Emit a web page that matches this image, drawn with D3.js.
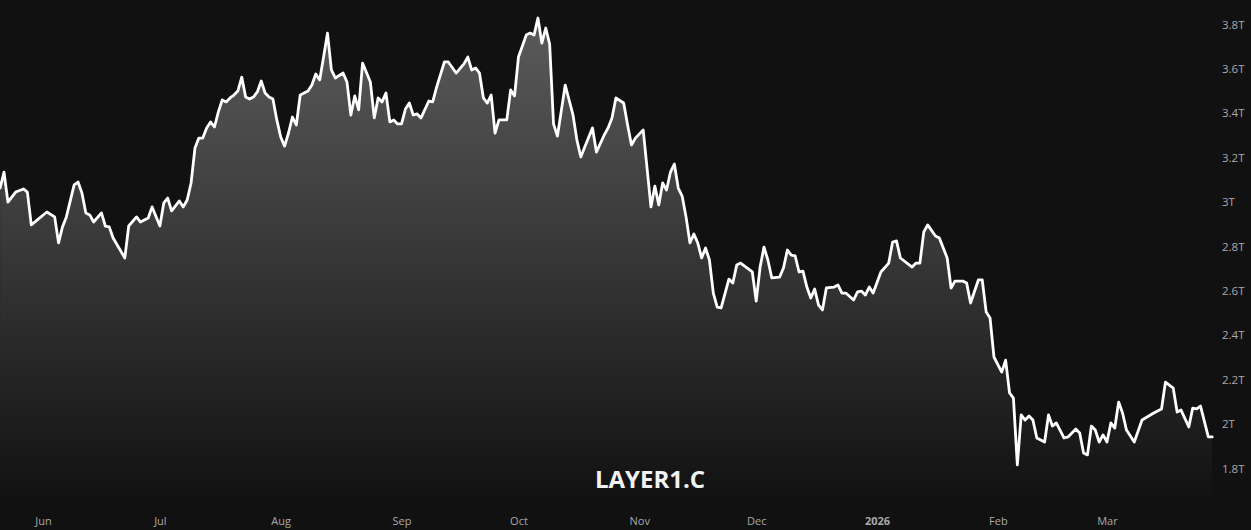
<!DOCTYPE html>
<html>
<head>
<meta charset="utf-8">
<script src="https://cdn.jsdelivr.net/npm/d3@7"></script>
<style>
  html, body { margin: 0; padding: 0; background: #111111; }
  svg { display: block; }
</style>
</head>
<body>
<svg id="chart" width="1251" height="530"></svg>
<script>
// ---- data ----
const title = "LAYER1.C";
const dates = [
"2025-05-21","2025-05-22","2025-05-23","2025-05-25","2025-05-27","2025-05-28","2025-05-29",
"2025-06-02","2025-06-04","2025-06-05","2025-06-06","2025-06-07","2025-06-09","2025-06-10",
"2025-06-11","2025-06-12","2025-06-13","2025-06-14","2025-06-16","2025-06-17","2025-06-18",
"2025-06-19","2025-06-22","2025-06-23","2025-06-25","2025-06-26","2025-06-28","2025-06-29",
"2025-07-01","2025-07-02","2025-07-03","2025-07-04","2025-07-06","2025-07-07","2025-07-08",
"2025-07-09","2025-07-10","2025-07-11","2025-07-12","2025-07-13","2025-07-14","2025-07-15",
"2025-07-16","2025-07-17","2025-07-18","2025-07-19","2025-07-20","2025-07-21","2025-07-22",
"2025-07-23","2025-07-24","2025-07-25","2025-07-26","2025-07-27","2025-07-28","2025-07-29",
"2025-07-30","2025-07-31","2025-08-01","2025-08-02","2025-08-03","2025-08-04","2025-08-05",
"2025-08-06","2025-08-07","2025-08-08","2025-08-09","2025-08-10","2025-08-11","2025-08-12",
"2025-08-13","2025-08-14","2025-08-15","2025-08-17",
"2025-08-18","2025-08-19","2025-08-20","2025-08-21","2025-08-22","2025-08-24","2025-08-25",
"2025-08-26","2025-08-27","2025-08-28","2025-08-29","2025-08-30","2025-08-31","2025-09-01",
"2025-09-02","2025-09-03","2025-09-04","2025-09-05","2025-09-06","2025-09-08","2025-09-09",
"2025-09-10","2025-09-12","2025-09-13","2025-09-15","2025-09-17","2025-09-18","2025-09-19",
"2025-09-20","2025-09-21","2025-09-22","2025-09-23","2025-09-24","2025-09-25","2025-09-26",
"2025-09-28","2025-09-29","2025-09-30","2025-10-01","2025-10-03","2025-10-04","2025-10-05",
"2025-10-06","2025-10-07","2025-10-08","2025-10-09","2025-10-10","2025-10-11","2025-10-13",
"2025-10-15","2025-10-16","2025-10-17","2025-10-18","2025-10-20","2025-10-21","2025-10-23",
"2025-10-24","2025-10-25","2025-10-26","2025-10-28","2025-10-29","2025-10-30","2025-10-31",
"2025-11-02","2025-11-04","2025-11-05","2025-11-06","2025-11-07","2025-11-08","2025-11-09",
"2025-11-10","2025-11-11","2025-11-12","2025-11-13","2025-11-14","2025-11-15","2025-11-16",
"2025-11-17","2025-11-18","2025-11-19","2025-11-20","2025-11-21","2025-11-22","2025-11-24",
"2025-11-25","2025-11-26","2025-11-27","2025-11-30","2025-12-01","2025-12-02","2025-12-03",
"2025-12-04","2025-12-05","2025-12-07","2025-12-08","2025-12-09","2025-12-10","2025-12-11",
"2025-12-12","2025-12-13","2025-12-14","2025-12-15","2025-12-16","2025-12-17","2025-12-18",
"2025-12-19","2025-12-21","2025-12-22","2025-12-23","2025-12-24","2025-12-26","2025-12-27",
"2025-12-28","2025-12-29","2025-12-30","2025-12-31","2026-01-02","2026-01-04","2026-01-05",
"2026-01-06","2026-01-07","2026-01-10","2026-01-11","2026-01-12","2026-01-13","2026-01-14",
"2026-01-16","2026-01-17","2026-01-18","2026-01-19","2026-01-20","2026-01-21","2026-01-23",
"2026-01-24","2026-01-25","2026-01-27","2026-01-28","2026-01-29","2026-01-30","2026-01-31",
"2026-02-02","2026-02-03","2026-02-04","2026-02-05","2026-02-06","2026-02-07","2026-02-08",
"2026-02-09","2026-02-10","2026-02-11","2026-02-13","2026-02-14","2026-02-15","2026-02-16",
"2026-02-18","2026-02-19","2026-02-21","2026-02-22","2026-02-23","2026-02-24","2026-02-25",
"2026-02-26","2026-02-27","2026-02-28","2026-03-01","2026-03-02","2026-03-03","2026-03-04",
"2026-03-05","2026-03-06","2026-03-08","2026-03-10","2026-03-13","2026-03-15","2026-03-16",
"2026-03-18","2026-03-19","2026-03-20","2026-03-22","2026-03-23","2026-03-24","2026-03-25",
"2026-03-27","2026-03-28"
];
// market cap, trillions
const values = [
3.052,3.124,2.989,3.034,3.048,3.034,2.886,
2.944,2.922,2.805,2.877,2.922,3.066,3.079,
3.030,2.940,2.931,2.899,2.940,2.881,2.877,
2.827,2.737,2.881,2.922,2.899,2.917,2.967,
2.881,2.985,3.007,2.949,2.994,2.967,2.998,
3.075,3.232,3.277,3.277,3.323,3.350,3.327,
3.395,3.449,3.440,3.458,3.471,3.489,3.552,
3.462,3.453,3.462,3.485,3.534,3.480,3.462,
3.453,3.359,3.282,3.241,3.300,3.372,3.336,
3.471,3.480,3.489,3.516,3.566,3.539,3.642,
3.750,3.584,3.548,3.570,
3.530,3.381,3.467,3.404,3.615,3.530,3.368,
3.458,3.440,3.480,3.350,3.359,3.341,3.341,
3.408,3.435,3.381,3.386,3.368,3.444,3.440,
3.507,3.620,3.620,3.570,3.611,3.642,3.584,
3.593,3.570,3.458,3.435,3.471,3.300,3.359,
3.359,3.494,3.467,3.642,3.741,3.750,3.741,
3.818,3.705,3.773,3.701,3.341,3.286,3.516,
3.381,3.268,3.192,3.237,3.323,3.214,3.291,
3.323,3.368,3.458,3.435,3.336,3.246,3.277,
3.314,2.967,3.061,2.976,3.075,3.043,3.124,
3.160,3.052,3.016,2.922,2.805,2.845,2.805,
2.737,2.782,2.728,2.579,2.516,2.512,2.642,
2.624,2.705,2.714,2.674,2.543,2.696,2.786,
2.728,2.647,2.651,2.692,2.773,2.750,2.746,
2.674,2.678,2.606,2.557,2.597,2.525,2.503,
2.602,2.606,2.615,2.579,2.579,2.548,2.584,
2.588,2.570,2.606,2.579,2.674,2.714,2.809,
2.814,2.737,2.696,2.714,2.714,2.854,2.886,
2.836,2.827,2.782,2.737,2.602,2.633,2.633,
2.624,2.534,2.638,2.638,2.494,2.467,2.291,
2.223,2.277,2.129,2.106,1.805,2.030,2.007,
2.025,2.007,1.926,1.908,2.030,1.980,1.994,
1.926,1.931,1.967,1.949,1.859,1.850,1.980,
1.962,1.908,1.940,1.908,1.994,1.971,2.088,
2.039,1.962,1.908,2.007,2.039,2.057,2.178,
2.151,2.043,2.052,1.976,2.061,2.057,2.070,
1.931,1.931
];
const priceTicks = [1.8, 2.0, 2.2, 2.4, 2.6, 2.8, 3.0, 3.2, 3.4, 3.6, 3.8];
const monthTicks = ["2025-06-01","2025-07-01","2025-08-01","2025-09-01","2025-10-01",
                    "2025-11-01","2025-12-01","2026-01-01","2026-02-01","2026-03-01"];

// ---- layout ----
const W = 1251, H = 530;
const plotRight = 1214, plotBottom = 503;

const parse = d3.utcParse("%Y-%m-%d");
const data = dates.map((d, i) => ({ date: parse(d), value: values[i] }));

const x = d3.scaleUtc()
  .domain(d3.extent(data, d => d.date))
  .range([0.1, 1212.2]);
const y = d3.scaleLinear().domain([1.8, 3.8]).range([466, 22]);

const svg = d3.select("#chart");
svg.append("rect").attr("width", W).attr("height", H).attr("fill", "#111111");

const defs = svg.append("defs");
const grad = defs.append("linearGradient")
  .attr("id", "areaGrad").attr("gradientUnits", "userSpaceOnUse")
  .attr("x1", 0).attr("x2", 0).attr("y1", y(d3.max(values))).attr("y2", plotBottom);
grad.append("stop").attr("offset", 0).attr("stop-color", "#ffffff").attr("stop-opacity", 0.31);
grad.append("stop").attr("offset", 1).attr("stop-color", "#ffffff").attr("stop-opacity", 0.0);

defs.append("clipPath").attr("id", "plotClip")
  .append("rect").attr("x", 0).attr("y", 0).attr("width", plotRight).attr("height", plotBottom);

const g = svg.append("g").attr("clip-path", "url(#plotClip)");

const area = d3.area().x(d => x(d.date)).y0(plotBottom).y1(d => y(d.value));
const line = d3.line().x(d => x(d.date)).y(d => y(d.value));

g.append("path").datum(data).attr("d", area).attr("fill", "url(#areaGrad)");
g.append("path").datum(data).attr("d", line)
  .attr("fill", "none").attr("stroke", "#ffffff").attr("stroke-width", 2.8)
  .attr("stroke-linejoin", "round").attr("stroke-linecap", "round");

// watermark title
svg.append("text")
  .attr("x", 650).attr("y", 482)
  .attr("text-anchor", "middle").attr("dominant-baseline", "middle")
  .attr("font-family", "'Open Sans', 'DejaVu Sans', sans-serif")
  .attr("font-weight", 700).attr("font-size", 24)
  .attr("fill", "#f2f2f2")
  .text(title);

// right price axis
const yAxis = d3.axisRight(y)
  .tickValues(priceTicks)
  .tickSize(0).tickPadding(0)
  .tickFormat(d => (+d.toFixed(1)) + "T");
const ya = svg.append("g").attr("transform", `translate(1222,2)`).call(yAxis);
ya.select(".domain").remove();
ya.selectAll("text")
  .attr("fill", "#a9a9a9")
  .attr("font-family", "'Open Sans', 'DejaVu Sans', sans-serif")
  .attr("font-size", 11.5)
  .attr("dy", "0.35em");

// bottom time axis
const mt = monthTicks.map(parse);
const xAxis = d3.axisBottom(x)
  .tickValues(mt)
  .tickSize(0).tickPadding(0)
  .tickFormat(d => d.getUTCMonth() === 0 ? d3.utcFormat("%Y")(d) : d3.utcFormat("%b")(d));
const xa = svg.append("g").attr("transform", `translate(0,521)`).call(xAxis);
xa.select(".domain").remove();
xa.selectAll("text")
  .attr("fill", "#a9a9a9")
  .attr("font-family", "'Open Sans', 'DejaVu Sans', sans-serif")
  .attr("font-size", 11)
  .attr("dy", "0.35em")
  .attr("font-weight", d => d.getUTCMonth() === 0 ? 700 : 400);
</script>
</body>
</html>
